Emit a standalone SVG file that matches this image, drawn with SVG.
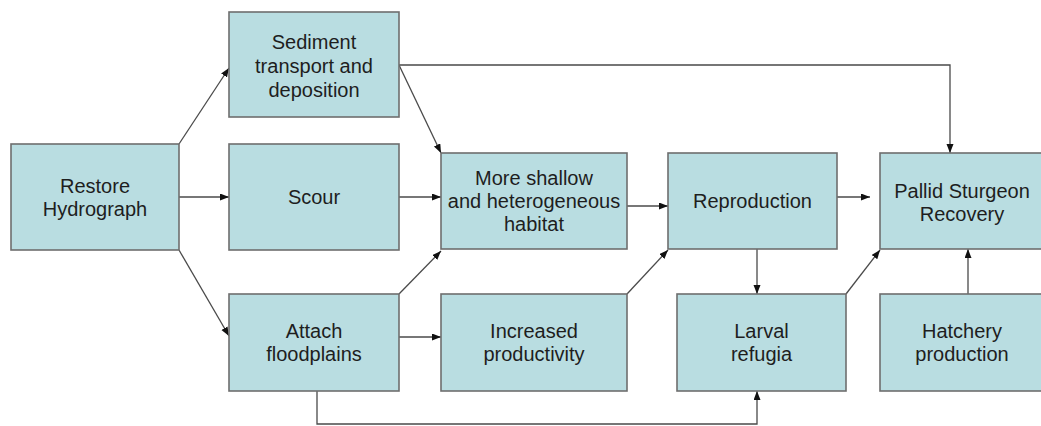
<svg xmlns="http://www.w3.org/2000/svg" width="1041" height="426" viewBox="0 0 1041 426">
<style>
.box{fill:#b9dde1;stroke:#6e6e6e;stroke-width:1.6}
.lbl{font-family:"Liberation Sans",Arial,sans-serif;font-size:20px;fill:#1e1e1e;text-anchor:middle}
.con{fill:none;stroke:#4a4a4a;stroke-width:1.3}
</style>
<defs>
<marker id="ah" markerUnits="userSpaceOnUse" markerWidth="10" markerHeight="8" refX="9" refY="3.5" orient="auto">
<path d="M0,0 L9,3.5 L0,7 z" fill="#111"/>
</marker>
</defs>
<rect width="1041" height="426" fill="#fff"/>
<g id="connectors">
<line class="con" x1="179" y1="144" x2="229" y2="68" marker-end="url(#ah)"/>
<line class="con" x1="179" y1="197" x2="229" y2="197" marker-end="url(#ah)"/>
<line class="con" x1="179" y1="250" x2="229" y2="336" marker-end="url(#ah)"/>
<line class="con" x1="399" y1="65" x2="441" y2="153" marker-end="url(#ah)"/>
<polyline class="con" points="399,65 950,65 950,153" marker-end="url(#ah)"/>
<line class="con" x1="399" y1="197" x2="441" y2="197" marker-end="url(#ah)"/>
<line class="con" x1="399" y1="294" x2="441" y2="251" marker-end="url(#ah)"/>
<line class="con" x1="399" y1="337" x2="441" y2="337" marker-end="url(#ah)"/>
<polyline class="con" points="317,391 317,424 757,424 757,391" marker-end="url(#ah)"/>
<line class="con" x1="627" y1="206" x2="668" y2="206" marker-end="url(#ah)"/>
<line class="con" x1="627" y1="294" x2="668" y2="250" marker-end="url(#ah)"/>
<line class="con" x1="757" y1="249" x2="757" y2="294" marker-end="url(#ah)"/>
<line class="con" x1="837" y1="197" x2="870" y2="197" marker-end="url(#ah)"/>
<line class="con" x1="846" y1="294" x2="880" y2="250" marker-end="url(#ah)"/>
<line class="con" x1="968" y1="294" x2="968" y2="249" marker-end="url(#ah)"/>
</g>
<g id="restore">
<rect class="box" x="11" y="144" width="168" height="106"/>
<text class="lbl" x="95" y="192.5">Restore</text>
<text class="lbl" x="95" y="215.5">Hydrograph</text>
</g>
<g id="sediment">
<rect class="box" x="229" y="12" width="170" height="105"/>
<text class="lbl" x="314" y="48.5">Sediment</text>
<text class="lbl" x="314" y="72.5">transport and</text>
<text class="lbl" x="314" y="96.5">deposition</text>
</g>
<g id="scour">
<rect class="box" x="229" y="144" width="170" height="106"/>
<text class="lbl" x="314" y="204">Scour</text>
</g>
<g id="attach">
<rect class="box" x="229" y="294" width="170" height="97"/>
<text class="lbl" x="314" y="338">Attach</text>
<text class="lbl" x="314" y="361">floodplains</text>
</g>
<g id="habitat">
<rect class="box" x="441" y="153" width="186" height="96"/>
<text class="lbl" x="534" y="185">More shallow</text>
<text class="lbl" x="534" y="208">and heterogeneous</text>
<text class="lbl" x="534" y="231">habitat</text>
</g>
<g id="productivity">
<rect class="box" x="441" y="294" width="186" height="97"/>
<text class="lbl" x="534" y="338">Increased</text>
<text class="lbl" x="534" y="361">productivity</text>
</g>
<g id="reproduction">
<rect class="box" x="668" y="153" width="169" height="96"/>
<text class="lbl" x="752.5" y="208">Reproduction</text>
</g>
<g id="larval">
<rect class="box" x="677" y="294" width="169" height="97"/>
<text class="lbl" x="761.5" y="338">Larval</text>
<text class="lbl" x="761.5" y="361">refugia</text>
</g>
<g id="pallid">
<rect class="box" x="880" y="153" width="165" height="96"/>
<text class="lbl" x="962" y="197.5">Pallid Sturgeon</text>
<text class="lbl" x="962" y="220.5">Recovery</text>
</g>
<g id="hatchery">
<rect class="box" x="880" y="294" width="165" height="97"/>
<text class="lbl" x="962" y="338">Hatchery</text>
<text class="lbl" x="962" y="361">production</text>
</g>
</svg>
